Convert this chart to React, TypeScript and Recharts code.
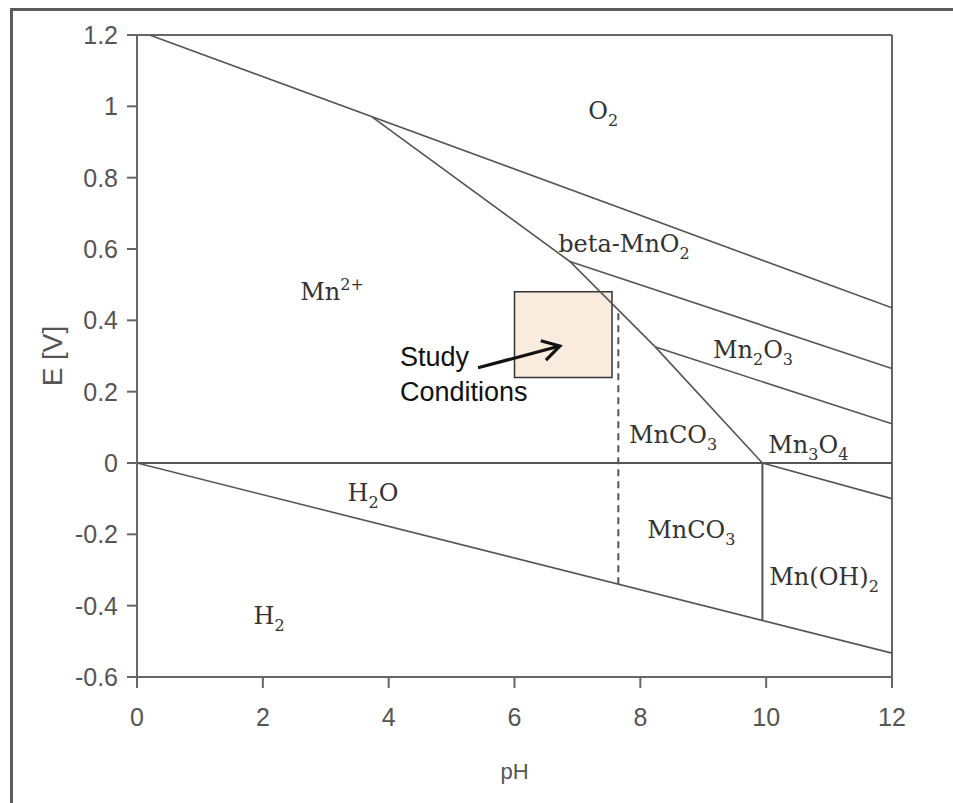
import React from "react";
import {
  ComposedChart,
  Line,
  Scatter,
  XAxis,
  YAxis,
  ReferenceLine,
  ReferenceArea,
} from "recharts";

// Axis ticks
const phTicks = [0, 2, 4, 6, 8, 10, 12];
const eTicks = [-0.6, -0.4, -0.2, 0, 0.2, 0.4, 0.6, 0.8, 1, 1.2];

// Stability boundaries (pH, E in volts)
const o2WaterLine = [
  { ph: 0.2, e: 1.2 },
  { ph: 12, e: 0.435 },
];
const mn2plusBoundary = [
  { ph: 3.74, e: 0.97 },
  { ph: 6.88, e: 0.565 },
  { ph: 8.24, e: 0.325 },
  { ph: 9.94, e: 0 },
];
const mnO2Mn2O3Line = [
  { ph: 6.88, e: 0.565 },
  { ph: 12, e: 0.265 },
];
const mn2O3Mn3O4Line = [
  { ph: 8.24, e: 0.325 },
  { ph: 12, e: 0.11 },
];
const mn3O4MnOH2Line = [
  { ph: 9.94, e: 0 },
  { ph: 12, e: -0.1 },
];
const zeroLine = [
  { ph: 0, e: 0 },
  { ph: 12, e: 0 },
];
const waterH2Line = [
  { ph: 0, e: 0 },
  { ph: 12, e: -0.533 },
];
const carbonateHydroxideLine = [
  { ph: 9.94, e: 0 },
  { ph: 9.94, e: -0.441 },
];
const carbonateDashedLine = [
  { ph: 7.65, e: 0.42 },
  { ph: 7.65, e: -0.34 },
];

// Study window
const studyPh = [6, 7.55];
const studyE = [0.24, 0.48];
const studyArrow = [
  { ph: 5.42, e: 0.267 },
  { ph: 6.72, e: 0.328 },
];
const studyNote = [{ ph: 4.18, e: 0.272, lines: ["Study", "Conditions"] }];

// Species labels ("_" = subscript, "^{}" = superscript)
const speciesLabels = [
  { ph: 7.41, e: 0.965, text: "O_2" },
  { ph: 7.74, e: 0.592, text: "beta-MnO_2" },
  { ph: 3.1, e: 0.457, text: "Mn^{2+}" },
  { ph: 9.79, e: 0.294, text: "Mn_2O_3" },
  { ph: 8.52, e: 0.056, text: "MnCO_3" },
  { ph: 10.67, e: 0.028, text: "Mn_3O_4" },
  { ph: 3.75, e: -0.106, text: "H_2O" },
  { ph: 8.81, e: -0.21, text: "MnCO_3" },
  { ph: 10.92, e: -0.342, text: "Mn(OH)_2" },
  { ph: 2.1, e: -0.451, text: "H_2" },
];

const SANS = "'Liberation Sans', Arial, sans-serif";
const SERIF = "'DejaVu Serif', 'Liberation Serif', serif";
const AXIS = "#666";
const BOUNDARY = "#555";

function parseFormula(src: string) {
  const parts: { t: string; k: "base" | "sub" | "sup" }[] = [];
  let i = 0;
  while (i < src.length) {
    if (src[i] === "_") {
      parts.push({ t: src[i + 1], k: "sub" });
      i += 2;
    } else if (src[i] === "^") {
      const end = src.indexOf("}", i);
      parts.push({ t: src.slice(i + 2, end), k: "sup" });
      i = end + 1;
    } else {
      let j = i;
      while (j < src.length && src[j] !== "_" && src[j] !== "^") j++;
      parts.push({ t: src.slice(i, j), k: "base" });
      i = j;
    }
  }
  return parts;
}

function FormulaLabel(props: any) {
  const { cx, cy, payload } = props;
  if (cx == null || cy == null) return null;
  const parts = parseFormula(payload.text);
  let shift = 0;
  return (
    <text
      x={cx}
      y={cy}
      textAnchor="middle"
      fontFamily={SERIF}
      fontSize={24}
      fill="#333"
    >
      {parts.map((p, idx) => {
        const target = p.k === "sub" ? 7 : p.k === "sup" ? -10 : 0;
        const dy = target - shift;
        shift = target;
        return (
          <tspan key={idx} dy={dy} fontSize={p.k === "base" ? 24 : 16}>
            {p.t}
          </tspan>
        );
      })}
    </text>
  );
}

function NoteLabel(props: any) {
  const { cx, cy, payload } = props;
  if (cx == null || cy == null) return null;
  return (
    <text x={cx} y={cy} fontFamily={SANS} fontSize={27} fill="#111">
      {payload.lines.map((line: string, idx: number) => (
        <tspan key={idx} x={cx} dy={idx === 0 ? 0 : 35}>
          {line}
        </tspan>
      ))}
    </text>
  );
}

function EAxisTitle(props: any) {
  const { viewBox } = props;
  const x = 52;
  const y = viewBox.y + viewBox.height / 2;
  return (
    <text
      x={x}
      y={y}
      transform={`rotate(-90, ${x}, ${y})`}
      textAnchor="middle"
      dominantBaseline="central"
      fontFamily={SANS}
      fontSize={28}
      fill="#555"
    >
      E [V]
    </text>
  );
}

const boundaries = [
  { key: "o2", data: o2WaterLine, width: 1.6 },
  { key: "mn2", data: mn2plusBoundary, width: 1.6 },
  { key: "mno2", data: mnO2Mn2O3Line, width: 1.6 },
  { key: "mn2o3", data: mn2O3Mn3O4Line, width: 1.6 },
  { key: "mn3o4", data: mn3O4MnOH2Line, width: 1.6 },
  { key: "zero", data: zeroLine, width: 2 },
  { key: "h2", data: waterH2Line, width: 1.6 },
  { key: "ohv", data: carbonateHydroxideLine, width: 2 },
];

export default function App() {
  return (
    <div
      style={{
        position: "absolute",
        left: 0,
        top: 0,
        width: 953,
        height: 803,
        background: "#fff",
        overflow: "hidden",
      }}
    >
      <div
        style={{
          position: "absolute",
          left: 10,
          top: 8,
          right: 0,
          height: 793,
          borderTop: "3px solid #5c5c5c",
          borderLeft: "3px solid #5c5c5c",
          borderBottom: "1px solid #ddd",
        }}
      />
      <div style={{ position: "absolute", left: 0, top: 0 }}>
        <ComposedChart
          width={953}
          height={803}
          margin={{ top: 35, right: 61, bottom: 0, left: 0 }}
        >
          <defs>
            <marker
              id="arrowHead"
              markerUnits="userSpaceOnUse"
              markerWidth={26}
              markerHeight={26}
              viewBox="0 0 26 26"
              refX={22}
              refY={13}
              orient="auto"
            >
              <path
                d="M5,3 L22,13 L5,23"
                fill="none"
                stroke="#111"
                strokeWidth={3.2}
                strokeLinejoin="miter"
              />
            </marker>
          </defs>
          <XAxis
            type="number"
            dataKey="ph"
            domain={[0, 12]}
            ticks={phTicks}
            allowDataOverflow
            height={126}
            tickSize={11}
            tickMargin={20}
            axisLine={{ stroke: AXIS, strokeWidth: 2 }}
            tickLine={{ stroke: AXIS, strokeWidth: 2 }}
            tick={{ fontFamily: SANS, fontSize: 25, fill: "#555" }}
            label={{
              value: "pH",
              position: "insideBottom",
              offset: 24,
              style: { fontFamily: SANS, fontSize: 22, fill: "#555" },
            }}
          />
          <YAxis
            type="number"
            dataKey="e"
            domain={[-0.6, 1.2]}
            ticks={eTicks}
            allowDataOverflow
            width={137}
            tickSize={10}
            tickMargin={9}
            axisLine={{ stroke: AXIS, strokeWidth: 2 }}
            tickLine={{ stroke: AXIS, strokeWidth: 2 }}
            tick={{ fontFamily: SANS, fontSize: 25, fill: "#555" }}
            label={{ content: <EAxisTitle /> }}
          />
          <ReferenceLine y={1.2} stroke={AXIS} strokeWidth={2} />
          <ReferenceLine x={12} stroke={AXIS} strokeWidth={2} />
          <ReferenceArea
            x1={studyPh[0]}
            x2={studyPh[1]}
            y1={studyE[0]}
            y2={studyE[1]}
            fill="#FAEBDF"
            fillOpacity={1}
            stroke="#333"
            strokeWidth={1.5}
          />
          {boundaries.map((b) => (
            <Line
              key={b.key}
              data={b.data}
              dataKey="e"
              type="linear"
              stroke={BOUNDARY}
              strokeWidth={b.width}
              dot={false}
              activeDot={false}
              isAnimationActive={false}
            />
          ))}
          <Line
            data={carbonateDashedLine}
            dataKey="e"
            type="linear"
            stroke={BOUNDARY}
            strokeWidth={2}
            strokeDasharray="7 5"
            dot={false}
            activeDot={false}
            isAnimationActive={false}
          />
          <Line
            data={studyArrow}
            dataKey="e"
            type="linear"
            stroke="#111"
            strokeWidth={3.2}
            markerEnd="url(#arrowHead)"
            dot={false}
            activeDot={false}
            isAnimationActive={false}
          />
          <Scatter
            data={speciesLabels}
            dataKey="e"
            shape={<FormulaLabel />}
            isAnimationActive={false}
          />
          <Scatter
            data={studyNote}
            dataKey="e"
            shape={<NoteLabel />}
            isAnimationActive={false}
          />
        </ComposedChart>
      </div>
    </div>
  );
}
